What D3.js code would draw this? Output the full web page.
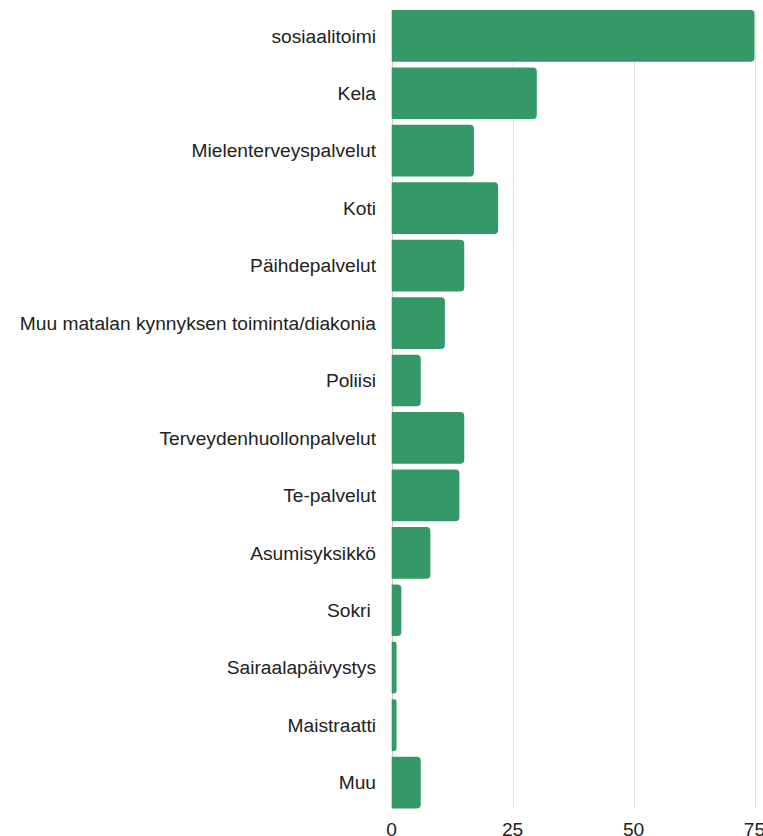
<!DOCTYPE html>
<html>
<head>
<meta charset="utf-8">
<script src="https://cdn.jsdelivr.net/npm/d3@7"></script>
<style>
  html, body { margin: 0; padding: 0; background: #fff; overflow: hidden; }
  text { font-family: Arial, "Liberation Sans", sans-serif; }
</style>
</head>
<body>
<div id="chart"></div>
<script>
(function() {
    'use strict';

    // categories & counts
    var categories = [
        'sosiaalitoimi',
        'Kela',
        'Mielenterveyspalvelut',
        'Koti',
        'Päihdepalvelut',
        'Muu matalan kynnyksen toiminta/diakonia',
        'Poliisi',
        'Terveydenhuollonpalvelut',
        'Te-palvelut',
        'Asumisyksikkö',
        'Sokri ',
        'Sairaalapäivystys',
        'Maistraatti',
        'Muu'
    ];
    var values = [75, 30, 17, 22, 15, 11, 6, 15, 14, 8, 2, 1, 1, 6];
    var tickValues = [0, 25, 50, 75];

    var width = 763,
        height = 836;

    var svg = d3.select('#chart')
      .append('svg')
        .attr('width', width)
        .attr('height', height);

    var x = d3.scaleLinear()
        .domain([0, 75])
        .range([391.7, 754.5]);

    var y = d3.scaleBand()
        .domain(categories)
        .range([7.1, 811.3])
        .paddingInner(0.1)
        .paddingOuter(0.05);

    var plotTop = y(categories[0]),
        plotBottom = y(categories[categories.length - 1]) + y.bandwidth();

    // grid lines
    svg.append('g')
        .selectAll('line')
        .data(tickValues)
        .join('line')
          .attr('x1', function(d) { return Math.round(x(d)) + 0.5; })
          .attr('x2', function(d) { return Math.round(x(d)) + 0.5; })
          .attr('y1', plotTop)
          .attr('y2', plotBottom)
          .attr('stroke', function(d) { return d === 0 ? '#cccccc' : '#e2e2e2'; })
          .attr('stroke-width', 1);

    // bar with rounded right end
    function barPath(d) {
        var x0 = x(0),
            x1 = x(d.value),
            y0 = y(d.name),
            h = y.bandwidth(),
            r = Math.min(4, (x1 - x0) / 2);
        return 'M' + x0 + ',' + y0 +
               'H' + (x1 - r) +
               'Q' + x1 + ',' + y0 + ' ' + x1 + ',' + (y0 + r) +
               'V' + (y0 + h - r) +
               'Q' + x1 + ',' + (y0 + h) + ' ' + (x1 - r) + ',' + (y0 + h) +
               'H' + x0 + 'Z';
    }

    var data = categories.map(function(c, i) { return { name: c, value: values[i] }; });

    svg.append('g')
        .selectAll('path')
        .data(data)
        .join('path')
          .attr('d', barPath)
          .attr('fill', '#349966');

    // category labels
    svg.append('g')
        .selectAll('text')
        .data(data)
        .join('text')
          .attr('x', 376)
          .attr('y', function(d) { return y(d.name) + y.bandwidth() / 2; })
          .attr('dy', '0.35em')
          .attr('text-anchor', 'end')
          .attr('font-size', 19.2)
          .attr('fill', '#222')
          .attr('xml:space', 'preserve')
          .text(function(d) { return d.name; });

    // x axis labels (the reference crops them at the bottom edge)
    svg.append('g')
        .selectAll('text')
        .data(tickValues)
        .join('text')
          .attr('x', function(d) { return x(d); })
          .attr('y', 836)
          .attr('text-anchor', 'middle')
          .attr('font-size', 19.2)
          .attr('fill', '#222')
          .text(function(d) { return d; });
}());
</script>
</body>
</html>
